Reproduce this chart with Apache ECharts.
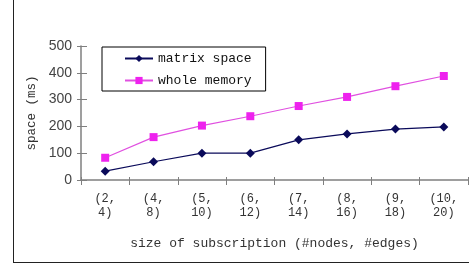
<!DOCTYPE html>
<html><head><meta charset="utf-8">
<script src="https://cdn.jsdelivr.net/npm/echarts@6/dist/echarts.min.js"></script>
<style>html,body{margin:0;padding:0;background:#fff}#c{width:469px;height:265px}</style>
</head><body><div id="c"></div>
<script>
var categories = ['(2,\n4)', '(4,\n8)', '(5,\n10)', '(6,\n12)', '(7,\n14)', '(8,\n16)', '(9,\n18)', '(10,\n20)'];
var matrixSpace = [33, 68, 100, 100, 150, 172, 190, 198];
var wholeMemory = [83, 160, 203, 238, 276, 310, 350, 388];
var yTicks = [0, 100, 200, 300, 400, 500];

var chart = echarts.init(document.getElementById('c'));
var G = {left: 81, top: 46, width: 387, height: 134};
var axisGray = '#7f7f7f';
chart.setOption({
  animation: false,
  grid: G,
  legend: {
    orient: 'vertical', left: 102, top: 47,
    padding: [5, 14, 4, 22], itemGap: 9, itemWidth: 28, itemHeight: 9,
    borderColor: '#000', borderWidth: 1,
    textStyle: {fontFamily: 'Liberation Mono', fontSize: 13, color: '#111'},
    data: ['matrix space', 'whole memory']
  },
  xAxis: [{
    type: 'category', data: categories, boundaryGap: true,
    axisLine: {lineStyle: {color: axisGray, width: 1.5}},
    axisTick: {show: true, length: 5, lineStyle: {color: axisGray}},
    axisLabel: {fontFamily: 'Liberation Mono', fontSize: 12, color: '#333', lineHeight: 14, margin: 12, interval: 0},
    name: 'size of subscription (#nodes, #edges)', nameLocation: 'middle', nameGap: 57,
    nameTextStyle: {fontFamily: 'Liberation Mono', fontSize: 13, color: '#333'}
  }, {
    type: 'category', data: categories, boundaryGap: true, position: 'bottom',
    axisLine: {show: false},
    axisTick: {show: true, inside: true, length: 3, lineStyle: {color: axisGray}},
    axisLabel: {show: false}
  }],
  yAxis: [{
    type: 'value', min: yTicks[0], max: yTicks[yTicks.length - 1], interval: 100,
    axisLine: {show: true, lineStyle: {color: axisGray, width: 1.5}},
    axisTick: {show: true, length: 4, lineStyle: {color: axisGray}},
    splitLine: {show: false},
    axisLabel: {fontFamily: 'Liberation Sans', fontSize: 14, color: '#444', margin: 9},
    name: 'space (ms)', nameLocation: 'middle', nameGap: 33, nameRotate: 90,
    nameTextStyle: {fontFamily: 'Liberation Mono', fontSize: 12.5, color: '#333'}
  }, {
    type: 'value', min: yTicks[0], max: yTicks[yTicks.length - 1], interval: 100, position: 'left',
    axisLine: {show: false},
    axisTick: {show: true, inside: true, length: 6, lineStyle: {color: axisGray}},
    splitLine: {show: false}, axisLabel: {show: false}
  }],
  series: [{
    name: 'matrix space', type: 'line', data: matrixSpace,
    symbol: 'diamond', symbolSize: 9,
    lineStyle: {color: '#0a0a5a', width: 1.2},
    itemStyle: {color: '#0a0a5a'}
  }, {
    name: 'whole memory', type: 'line', data: wholeMemory,
    symbol: 'rect', symbolSize: 8,
    lineStyle: {color: '#e050e0', width: 1.2},
    itemStyle: {color: '#ee22ee'}
  }],
  graphic: [
    {type: 'line', shape: {x1: 13.5, y1: 0, x2: 13.5, y2: 262.5}, style: {stroke: '#222', lineWidth: 1}},
    {type: 'line', shape: {x1: 13, y1: 262.5, x2: 469, y2: 262.5}, style: {stroke: '#222', lineWidth: 1}}
  ]
});
</script></body></html>
